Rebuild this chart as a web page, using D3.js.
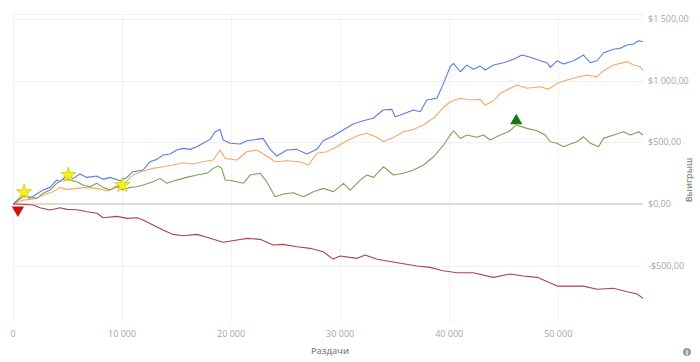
<!DOCTYPE html>
<meta charset="utf-8">
<head>
<title>Выигрыш по раздачам</title>
<style>
  body { margin: 0; background: #fff; }
  text { font-family: "Open Sans", sans-serif; }
  .tick-label { font-size: 9px; fill: #a6a6a6; }
  .axis-title { font-size: 9px; fill: #8a8a8a; font-weight: 600; }
</style>
</head>
<body>
<svg width="700" height="362"></svg>
<script src="https://cdn.jsdelivr.net/npm/d3@7"></script>
<script>

// hands played, dollars won  ->  [hands, $]
var totalWon = [[0,0],[917,73],[1560,46],[2174,81],[2752,113],[3394,135],[4009,194],[4312,181],[4926,235],[5504,208],[6147,243],[6761,216],[7679,227],[8257,200],[8899,216],[9817,189],[10431,216],[11009,262],[11926,276],[12569,343],[13183,362],[13761,397],[14403,405],[15017,438],[15596,451],[16238,443],[16853,464],[17431,492],[18073,524],[18532,586],[18991,605],[19266,519],[19908,492],[20826,486],[21440,513],[22357,524],[22936,532],[23578,443],[24193,389],[25110,438],[26028,443],[26943,405],[27861,443],[28440,513],[29357,551],[30275,600],[31192,648],[32110,675],[33027,695],[33945,762],[34743,767],[35046,707],[35780,729],[36697,762],[37339,748],[37954,843],[38871,857],[39477,978],[40091,1113],[40394,1140],[41009,1072],[41624,1126],[42228,1092],[42844,1118],[43303,1086],[44064,1126],[44982,1145],[45899,1173],[46670,1207],[47431,1189],[48349,1161],[48963,1145],[49266,1108],[49880,1161],[50486,1135],[51401,1161],[52318,1207],[52936,1145],[53548,1161],[54154,1226],[55071,1254],[55688,1262],[56300,1289],[56906,1297],[57366,1323],[57770,1315]];

var allInEv = [[0,0],[917,32],[1560,38],[2174,46],[2752,73],[3670,100],[4312,135],[4926,119],[5844,127],[6761,135],[7679,127],[8596,108],[9513,135],[10091,154],[10734,216],[11348,249],[11926,267],[12844,289],[13761,302],[14679,316],[15596,335],[16513,324],[17431,343],[18349,357],[18991,438],[19450,370],[20522,357],[21440,424],[22357,438],[23275,389],[24036,343],[25110,351],[26330,343],[27091,316],[27861,411],[28779,424],[29697,464],[30614,513],[31532,551],[32449,573],[33366,541],[33972,505],[34889,541],[35807,586],[36724,605],[37642,640],[38266,681],[38559,695],[39477,784],[40091,829],[41009,857],[41926,843],[42844,848],[43303,802],[44064,837],[44677,897],[45596,938],[46210,964],[47128,938],[48349,951],[49110,930],[49880,978],[50797,1005],[51714,1027],[52631,1045],[53548,1032],[54154,1080],[55071,1126],[55688,1140],[56300,1153],[56906,1126],[57522,1113],[57770,1080]];

var showdownWon = [[0,0],[917,59],[1560,59],[2174,46],[2752,87],[3394,113],[4009,168],[4587,200],[5229,194],[5844,181],[6422,154],[7064,140],[7679,168],[8257,135],[8899,113],[9513,146],[10091,113],[10734,135],[11348,140],[11926,154],[12844,181],[13486,208],[14100,168],[15017,194],[15935,216],[16853,235],[17770,249],[18349,289],[18807,308],[19146,289],[19450,195],[20063,189],[21128,168],[21743,235],[22660,249],[23275,181],[24036,59],[24798,81],[25715,92],[26632,59],[27549,100],[28467,127],[29384,100],[30302,168],[30917,113],[31834,194],[32449,235],[33055,216],[33972,302],[34889,235],[35807,249],[36724,276],[37642,316],[38559,383],[39477,478],[40091,559],[40394,594],[41009,532],[41624,559],[42540,541],[43146,559],[43761,519],[44677,559],[45438,586],[46145,640],[47128,613],[48045,594],[48807,559],[49266,505],[49880,492],[50486,464],[51099,486],[51714,505],[52318,545],[52936,492],[53696,464],[54154,532],[55071,559],[55990,586],[56606,559],[57366,586],[57770,559]];

var nonShowdownWon = [[0,0],[917,-2],[1835,-8],[2477,-30],[3394,-49],[4312,-30],[4954,-43],[5871,-46],[6789,-62],[7706,-75],[8257,-111],[9541,-100],[10458,-116],[11376,-111],[11926,-130],[12844,-170],[13761,-211],[14679,-246],[15596,-257],[16880,-246],[18073,-278],[19266,-310],[20550,-292],[21467,-278],[22660,-286],[23853,-332],[24770,-327],[26055,-346],[27247,-359],[28440,-387],[29357,-446],[29998,-421],[31558,-440],[32292,-413],[33393,-448],[35228,-476],[37063,-502],[38255,-513],[39448,-541],[40732,-557],[42200,-557],[44035,-594],[45596,-567],[46789,-583],[48073,-594],[49907,-665],[51100,-665],[52290,-665],[53575,-691],[55043,-683],[56327,-711],[57245,-729],[57770,-764]];

// event markers
var stars = [[1009,96],[5073,235],[10027,154]];
var downMarks = [[450,-48]];
var upMarks = [[46145,675]];

var xTicks = [0, 10000, 20000, 30000, 40000, 50000];
var yTicks = [-500, 0, 500, 1000, 1500];

var series = [
  { data: totalWon, color: "#5b7be6" },
  { data: allInEv, color: "#f6a86a" },
  { data: showdownWon, color: "#80a058" },
  { data: nonShowdownWon, color: "#a8454b" }
];

var svg = d3.select("svg");

var x = d3.scaleLinear().domain([0, 57770]).range([13, 643]);
var y = d3.scaleLinear().domain([-964, 1540]).range([323, 14]);

// number formatting like "1 500,00"
var fmtInt = function(v) { return d3.format(",")(v).replace(/,/g, " "); };
var fmtMoney = function(v) {
  return (v < 0 ? "-$" : "$") + fmtInt(Math.abs(v)) + ",00";
};

// plot border top
svg.append("line")
  .attr("x1", 13).attr("x2", 643)
  .attr("y1", 14.5).attr("y2", 14.5)
  .attr("stroke", "#f0f0f0");

// vertical grid
svg.append("g").selectAll("line")
  .data(xTicks)
  .join("line")
  .attr("x1", function(d) { return Math.round(x(d)) + 0.5; })
  .attr("x2", function(d) { return Math.round(x(d)) + 0.5; })
  .attr("y1", 14).attr("y2", 323)
  .attr("stroke", "#f2f2f2");

// horizontal grid
svg.append("g").selectAll("line")
  .data(yTicks.filter(function(d) { return d !== 0; }))
  .join("line")
  .attr("x1", 13).attr("x2", 643)
  .attr("y1", function(d) { return Math.round(y(d)) + 0.5; })
  .attr("y2", function(d) { return Math.round(y(d)) + 0.5; })
  .attr("stroke", "#f0f0f0");

// zero line
svg.append("line")
  .attr("x1", 13).attr("x2", 643)
  .attr("y1", y(0)).attr("y2", y(0))
  .attr("stroke", "#cfcfcf")
  .attr("stroke-width", 1.6);

// x tick labels
svg.append("g").selectAll("text")
  .data(xTicks)
  .join("text")
  .attr("class", "tick-label")
  .attr("x", function(d) { return x(d); })
  .attr("y", 337)
  .attr("text-anchor", "middle")
  .text(function(d) { return fmtInt(d); });

// y tick labels (right side)
svg.append("g").selectAll("text")
  .data(yTicks)
  .join("text")
  .attr("class", "tick-label")
  .attr("x", 648)
  .attr("y", function(d) { return y(d) + 3; })
  .text(function(d) { return fmtMoney(d); });

// axis titles
svg.append("text")
  .attr("class", "axis-title")
  .attr("x", 330).attr("y", 354)
  .attr("text-anchor", "middle")
  .text("Раздачи");

svg.append("text")
  .attr("class", "axis-title")
  .attr("transform", "translate(692," + 180 + ") rotate(-90)")
  .attr("text-anchor", "middle")
  .text("Выигрыш");

// lines
var line = d3.line()
  .x(function(d) { return x(d[0]); })
  .y(function(d) { return y(d[1]); });

svg.append("g").selectAll("path")
  .data(series)
  .join("path")
  .attr("fill", "none")
  .attr("stroke", function(d) { return d.color; })
  .attr("stroke-width", 1.1)
  .attr("stroke-linejoin", "round")
  .attr("d", function(d) { return line(d.data); });

// markers
svg.append("g").selectAll("path")
  .data(stars)
  .join("path")
  .attr("transform", function(d) { return "translate(" + x(d[0]) + "," + y(d[1]) + ")"; })
  .attr("d", d3.symbol().type(d3.symbolStar).size(75))
  .attr("fill", "#f5f019")
  .attr("stroke", "#c9b800")
  .attr("stroke-width", 0.6);

svg.append("g").selectAll("path")
  .data(downMarks)
  .join("path")
  .attr("transform", function(d) { return "translate(" + x(d[0]) + "," + y(d[1]) + ") rotate(180)"; })
  .attr("d", d3.symbol().type(d3.symbolTriangle).size(65))
  .attr("fill", "#d01010");

svg.append("g").selectAll("path")
  .data(upMarks)
  .join("path")
  .attr("transform", function(d) { return "translate(" + x(d[0]) + "," + y(d[1]) + ")"; })
  .attr("d", d3.symbol().type(d3.symbolTriangle).size(65))
  .attr("fill", "#137a13");

// info icon
var info = svg.append("g").attr("transform", "translate(687,352)");
info.append("circle").attr("r", 4).attr("fill", "#9a9a9a");
info.append("text")
  .attr("y", 3)
  .attr("text-anchor", "middle")
  .style("font-size", "7px")
  .style("font-weight", "bold")
  .attr("fill", "#fff")
  .text("i");

</script>
</body>
